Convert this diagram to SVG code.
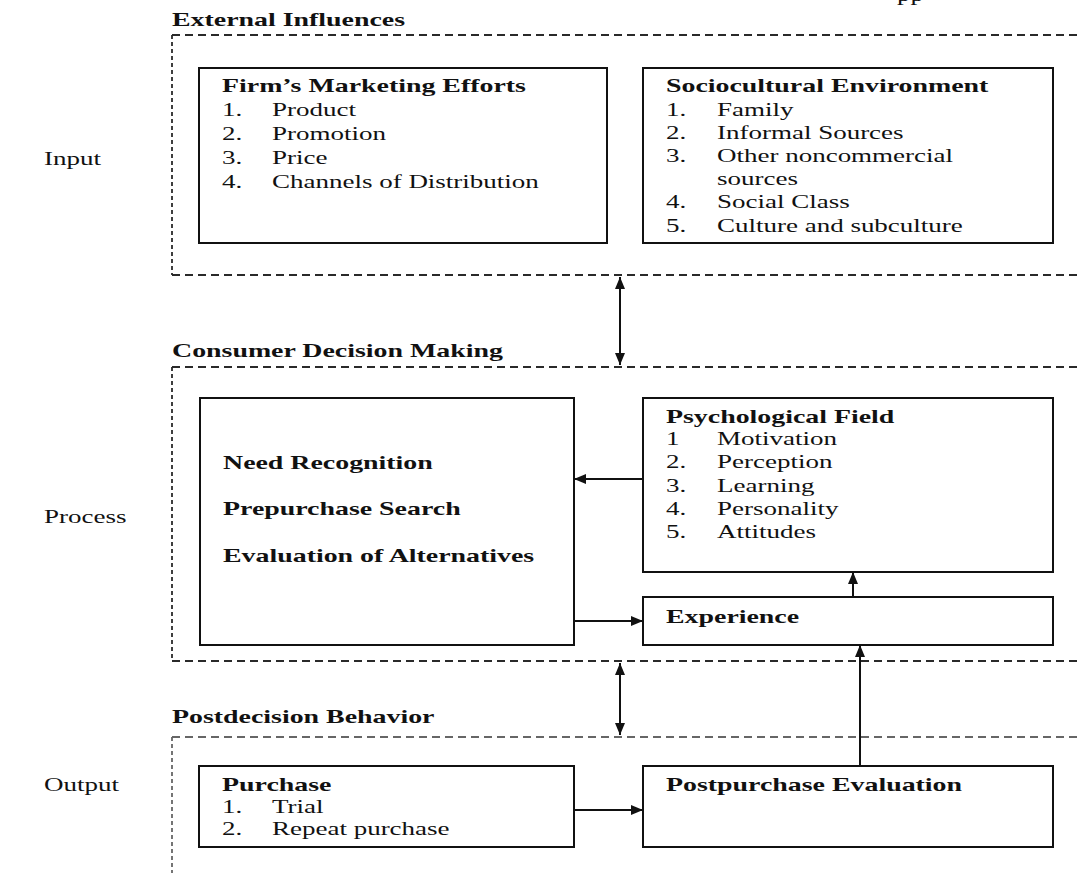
<svg xmlns="http://www.w3.org/2000/svg" width="1077" height="873" viewBox="0 0 1077 873">
<defs>
<style>
text{font-family:"Liberation Serif","Times New Roman",serif;font-size:18.5px;fill:#111;}
.b{font-weight:bold;font-size:19.5px;}
.s{font-size:18.5px;}
.box{fill:none;stroke:#111;stroke-width:2;}
.dh{fill:none;stroke:#2a2a2a;stroke-width:1.8;stroke-dasharray:8 5;}
.dv{fill:none;stroke:#2a2a2a;stroke-width:1.8;stroke-dasharray:4 3;}
.lt{stroke:#666;}
.con{fill:none;stroke:#111;stroke-width:2;}
</style>
<marker id="ah" viewBox="0 0 12 10" refX="12" refY="5" markerWidth="12" markerHeight="10" markerUnits="userSpaceOnUse" orient="auto-start-reverse">
<path d="M0,0 L12,5 L0,10 z" fill="#111"/>
</marker>
</defs>
<rect width="1077" height="873" fill="#fff"/>

<text transform="translate(897,1) scale(1.46,1)">pp</text>

<g id="side-labels">
<text class="s" transform="translate(44,165) scale(1.46,1)">Input</text>
<text class="s" transform="translate(44,523) scale(1.46,1)">Process</text>
<text class="s" transform="translate(44,791) scale(1.46,1)">Output</text>
</g>

<g id="external-influences">
<text class="b" transform="translate(172,26) scale(1.43,1)">External Influences</text>
<line class="dh" x1="172" y1="35" x2="1077" y2="35"/>
<line class="dh" x1="172" y1="275" x2="1077" y2="275"/>
<line class="dv" x1="172" y1="35" x2="172" y2="275"/>
</g>

<g id="consumer-decision-making">
<text class="b" transform="translate(172,357) scale(1.43,1)">Consumer Decision Making</text>
<line class="dh" x1="172" y1="367" x2="1077" y2="367"/>
<line class="dh" x1="172" y1="661" x2="1077" y2="661"/>
<line class="dv" x1="172" y1="367" x2="172" y2="661"/>
</g>

<g id="postdecision-behavior">
<text class="b" transform="translate(172,723) scale(1.43,1)">Postdecision Behavior</text>
<line class="dh lt" x1="172" y1="737" x2="1077" y2="737"/>
<line class="dv lt" x1="172" y1="737" x2="172" y2="873"/>
</g>

<g id="firms-marketing">
<rect class="box" x="199" y="68" width="408" height="175"/>
<text class="b" transform="translate(222,92) scale(1.43,1)">Firm’s Marketing Efforts</text>
<text transform="translate(222,116) scale(1.46,1)">1.</text><text transform="translate(272,116) scale(1.46,1)">Product</text>
<text transform="translate(222,140) scale(1.46,1)">2.</text><text transform="translate(272,140) scale(1.46,1)">Promotion</text>
<text transform="translate(222,164) scale(1.46,1)">3.</text><text transform="translate(272,164) scale(1.46,1)">Price</text>
<text transform="translate(222,188) scale(1.46,1)">4.</text><text transform="translate(272,188) scale(1.46,1)">Channels of Distribution</text>
</g>

<g id="sociocultural">
<rect class="box" x="643" y="68" width="410" height="175"/>
<text class="b" transform="translate(666,92) scale(1.43,1)">Sociocultural Environment</text>
<text transform="translate(666,116) scale(1.46,1)">1.</text><text transform="translate(717,116) scale(1.46,1)">Family</text>
<text transform="translate(666,139) scale(1.46,1)">2.</text><text transform="translate(717,139) scale(1.46,1)">Informal Sources</text>
<text transform="translate(666,162) scale(1.46,1)">3.</text><text transform="translate(717,162) scale(1.46,1)">Other noncommercial</text>
<text transform="translate(717,185) scale(1.46,1)">sources</text>
<text transform="translate(666,208) scale(1.46,1)">4.</text><text transform="translate(717,208) scale(1.46,1)">Social Class</text>
<text transform="translate(666,232) scale(1.46,1)">5.</text><text transform="translate(717,232) scale(1.46,1)">Culture and subculture</text>
</g>

<g id="decision-process">
<rect class="box" x="200" y="398" width="374" height="247"/>
<text class="b" transform="translate(223,469) scale(1.43,1)">Need Recognition</text>
<text class="b" transform="translate(223,515) scale(1.43,1)">Prepurchase Search</text>
<text class="b" transform="translate(223,562) scale(1.43,1)">Evaluation of Alternatives</text>
</g>

<g id="psychological-field">
<rect class="box" x="643" y="398" width="410" height="174"/>
<text class="b" transform="translate(666,423) scale(1.43,1)">Psychological Field</text>
<text transform="translate(666,445) scale(1.46,1)">1</text><text transform="translate(717,445) scale(1.46,1)">Motivation</text>
<text transform="translate(666,468) scale(1.46,1)">2.</text><text transform="translate(717,468) scale(1.46,1)">Perception</text>
<text transform="translate(666,492) scale(1.46,1)">3.</text><text transform="translate(717,492) scale(1.46,1)">Learning</text>
<text transform="translate(666,515) scale(1.46,1)">4.</text><text transform="translate(717,515) scale(1.46,1)">Personality</text>
<text transform="translate(666,538) scale(1.46,1)">5.</text><text transform="translate(717,538) scale(1.46,1)">Attitudes</text>
</g>

<g id="experience">
<rect class="box" x="643" y="597" width="410" height="48"/>
<text class="b" transform="translate(666,623) scale(1.43,1)">Experience</text>
</g>

<g id="purchase">
<rect class="box" x="199" y="766" width="375" height="81"/>
<text class="b" transform="translate(222,791) scale(1.43,1)">Purchase</text>
<text transform="translate(222,813) scale(1.46,1)">1.</text><text transform="translate(272,813) scale(1.46,1)">Trial</text>
<text transform="translate(222,835) scale(1.46,1)">2.</text><text transform="translate(272,835) scale(1.46,1)">Repeat purchase</text>
</g>

<g id="postpurchase-evaluation">
<rect class="box" x="643" y="766" width="410" height="81"/>
<text class="b" transform="translate(666,791) scale(1.43,1)">Postpurchase Evaluation</text>
</g>

<g id="connectors">
<line class="con" x1="620" y1="277" x2="620" y2="365" marker-start="url(#ah)" marker-end="url(#ah)"/>
<line class="con" x1="620" y1="663" x2="620" y2="735" marker-start="url(#ah)" marker-end="url(#ah)"/>
<line class="con" x1="643" y1="479" x2="574" y2="479" marker-end="url(#ah)"/>
<line class="con" x1="574" y1="621" x2="643" y2="621" marker-end="url(#ah)"/>
<line class="con" x1="853" y1="597" x2="853" y2="572" marker-end="url(#ah)"/>
<line class="con" x1="860" y1="766" x2="860" y2="645" marker-end="url(#ah)"/>
<line class="con" x1="574" y1="810" x2="643" y2="810" marker-end="url(#ah)"/>
</g>
</svg>
